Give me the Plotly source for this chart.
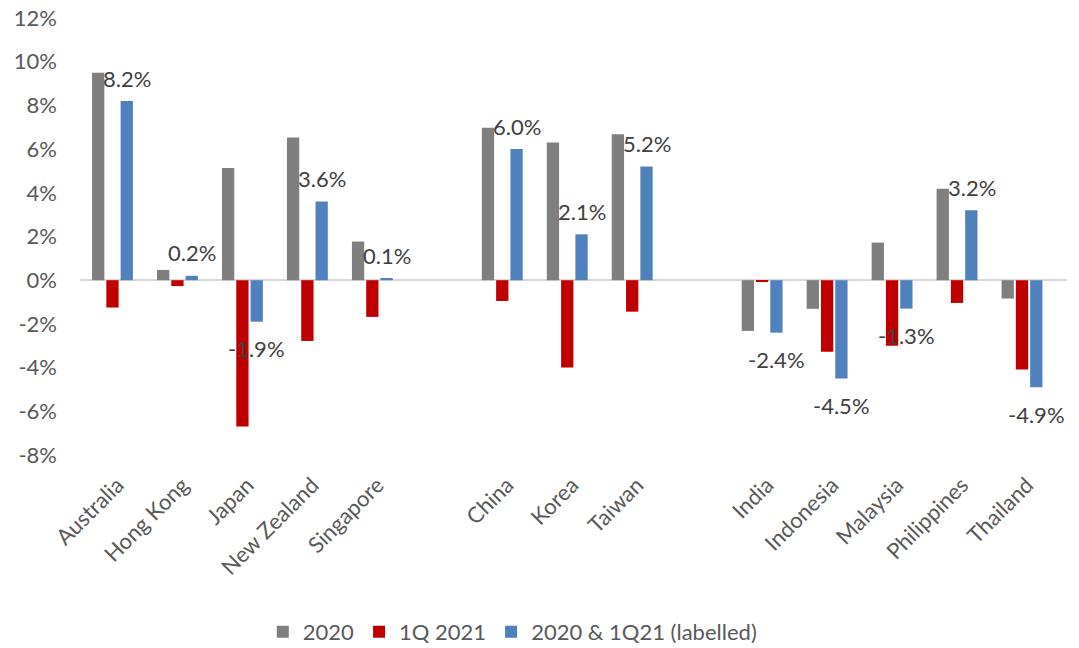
import plotly.graph_objects as go

# Categories, with blank slots separating the three country groups
categories = ["Australia", "Hong Kong", "Japan", "New Zealand", "Singapore", " ",
              "China", "Korea", "Taiwan", "  ",
              "India", "Indonesia", "Malaysia", "Philippines", "Thailand"]

growth_2020 = [9.5, 0.47, 5.14, 6.53, 1.77, None,
               6.98, 6.3, 6.68, None,
               -2.32, -1.31, 1.72, 4.19, -0.84]

growth_1q21 = [-1.25, -0.27, -6.7, -2.78, -1.68, None,
               -0.95, -4.0, -1.44, None,
               -0.05, -3.27, -3.0, -1.04, -4.09]

combined = [8.2, 0.2, -1.9, 3.6, 0.1, None,
            6.0, 2.1, 5.2, None,
            -2.4, -4.5, -1.3, 3.2, -4.9]

y_ticks = [-8, -6, -4, -2, 0, 2, 4, 6, 8, 10, 12]

FONT = "Lato"
AXIS_GREY = "#595959"
LABEL_GREY = "#404040"

fig = go.Figure()
fig.add_trace(go.Bar(x=categories, y=growth_2020, name="2020",
                     marker=dict(color="#7F7F7F", line=dict(width=0))))
fig.add_trace(go.Bar(x=categories, y=growth_1q21, name="1Q 2021",
                     marker=dict(color="#C00000", line=dict(width=0))))
fig.add_trace(go.Bar(x=categories, y=combined, name="2020 & 1Q21 (labelled)",
                     marker=dict(color="#4F81BD", line=dict(width=0))))

# Value labels above / below the labelled series
for cat, v in zip(categories, combined):
    if v is None:
        continue
    fig.add_annotation(x=cat, y=v, text=f"{v:.1f}%", showarrow=False,
                       xshift=14.5, yshift=23 if v >= 0 else -27,
                       font=dict(family=FONT, size=22, color=LABEL_GREY))

fig.update_layout(
    width=1079, height=648,
    margin=dict(l=80, r=12, t=18, b=193, autoexpand=False),
    paper_bgcolor="white", plot_bgcolor="white",
    barmode="group", bargap=0.34, bargroupgap=0.14,
    font=dict(family=FONT, size=22, color=AXIS_GREY),
    showlegend=True,
    legend=dict(orientation="h", x=0.438, xanchor="center", xref="paper",
                y=-0.405, yanchor="middle",
                font=dict(family=FONT, size=22, color=AXIS_GREY),
                itemwidth=30, tracegroupgap=0),
    xaxis=dict(type="category", categoryorder="array", categoryarray=categories,
               tickangle=-45, showgrid=False, showline=False, ticks="",
               automargin=False, ticklabelstandoff=12, ticklabelshift=5,
               tickfont=dict(family=FONT, size=22, color=AXIS_GREY)),
    yaxis=dict(range=[-8, 12], tickvals=y_ticks,
               ticktext=[f"{t}%" for t in y_ticks],
               showgrid=False, showline=False, ticks="",
               zeroline=True, zerolinecolor="#D9D9D9", zerolinewidth=1.5,
               ticklabelstandoff=22, automargin=False,
               tickfont=dict(family=FONT, size=22, color=AXIS_GREY)),
)

fig.write_html("out.html")
